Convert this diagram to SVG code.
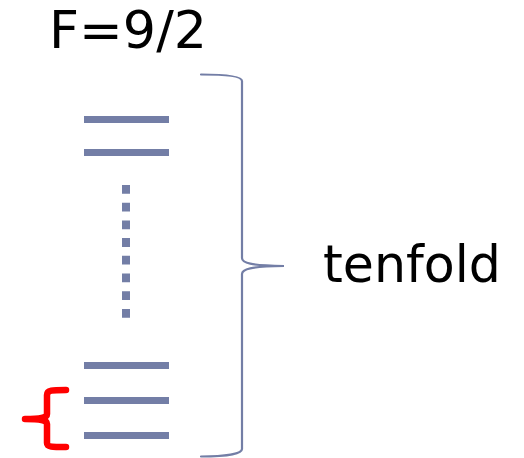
<svg xmlns="http://www.w3.org/2000/svg" width="524" height="458" viewBox="0 0 524 458">
  <style>
    .label { font-family: "DejaVu Sans", Verdana, sans-serif; font-size: 52px; fill: #000; }
    .level { stroke: #737ea6; stroke-width: 7; }
    .dots { stroke: #737ea6; stroke-width: 8; stroke-dasharray: 8.8 8.9; }
    .brace { fill: none; stroke: #737ea6; stroke-width: 2.2; stroke-linecap: round; }
    .mark { fill: none; stroke: #ff0000; stroke-width: 6.5; stroke-linecap: round; stroke-linejoin: round; }
  </style>
  <rect width="524" height="458" fill="#fff"/>
  <g id="title">
    <text class="label" x="49" y="48" textLength="158" lengthAdjust="spacingAndGlyphs">F=9/2</text>
  </g>
  <g id="levels">
    <line class="level" x1="84" y1="119.5" x2="169" y2="119.5"/>
    <line class="level" x1="84" y1="152.5" x2="169" y2="152.5"/>
    <line class="dots" x1="126" y1="185" x2="126" y2="318"/>
    <line class="level" x1="84" y1="365.5" x2="169" y2="365.5"/>
    <line class="level" x1="84" y1="400.5" x2="169" y2="400.5"/>
    <line class="level" x1="84" y1="435.5" x2="169" y2="435.5"/>
  </g>
  <g id="connectors">
    <path class="brace" d="M201,74.5 C225,74.5 242,76 242,81 L242,258 C242,263 250,265.5 284,266 C250,266.5 242,269 242,274 L242,449 C242,454 225,456.5 201,456.5"/>
    <path class="mark" d="M66,390 C52,390 47,390 47,395 L47,414 C47,418 40,419 25,419 C40,419 47,420 47,424 L47,443 C47,447 52,447 66,447"/>
  </g>
  <g id="tenfold">
    <text class="label" x="323" y="282" textLength="178" lengthAdjust="spacingAndGlyphs">tenfold</text>
  </g>
</svg>
